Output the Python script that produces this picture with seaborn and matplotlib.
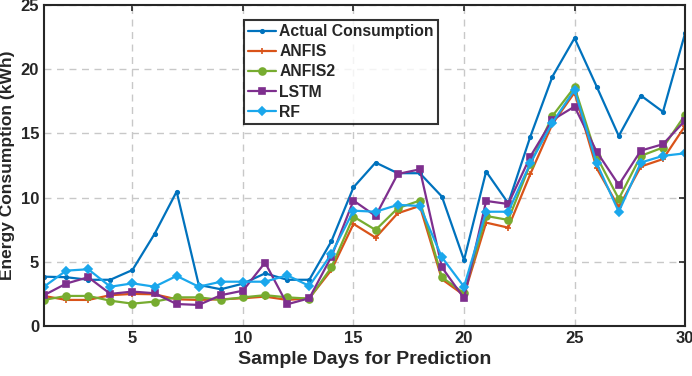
import numpy as np
import pandas as pd
import matplotlib
matplotlib.use("Agg")
import matplotlib.pyplot as plt
import seaborn as sns

days = list(range(1, 31))
actual = [3.84, 3.8, 3.6, 3.6, 4.36, 7.17, 10.47, 3.2, 2.86, 3.3, 4.1, 3.6, 3.6, 6.6, 10.8,
          12.73, 11.9, 11.9, 10.08, 5.14, 12.03, 9.56, 14.75, 19.43, 22.42, 18.65, 14.8, 17.95, 16.68, 22.8]
anfis = [2.34, 2.03, 2.03, 2.4, 2.5, 2.47, 2.08, 2.03, 2.08, 2.16, 2.29, 2.03, 2.16, 4.36, 7.95,
         6.88, 8.78, 9.35, 3.64, 2.4, 8.05, 7.66, 11.84, 15.74, 18.18, 12.29, 9.25, 12.42, 13.0, 15.58]
anfis2 = [2.03, 2.34, 2.34, 1.97, 1.74, 1.9, 2.23, 2.23, 2.03, 2.23, 2.4, 2.23, 2.13, 4.57, 8.52,
          7.48, 9.17, 9.77, 3.8, 2.55, 8.57, 8.26, 12.62, 16.36, 18.6, 13.2, 9.9, 13.25, 13.9, 16.44]
lstm = [2.4, 3.3, 3.8, 2.5, 2.68, 2.55, 1.71, 1.64, 2.4, 2.75, 4.94, 1.69, 2.16, 5.4, 9.77,
        8.57, 11.84, 12.2, 4.57, 2.16, 9.74, 9.5, 13.2, 16.05, 17.09, 13.58, 10.99, 13.66, 14.16, 16.0]
rf = [3.06, 4.31, 4.42, 3.06, 3.32, 3.06, 3.9, 3.06, 3.45, 3.45, 3.45, 3.95, 3.12, 5.6, 8.98,
      8.9, 9.43, 9.35, 5.35, 3.06, 8.9, 8.9, 12.68, 15.84, 18.39, 12.68, 8.9, 12.73, 13.25, 13.45]

series_names = ["Actual Consumption", "ANFIS", "ANFIS2", "LSTM", "RF"]
series_vals = [actual, anfis, anfis2, lstm, rf]
colors = ["#0072BD", "#D95319", "#77AC30", "#7E2F8E", "#1AA7EC"]
markers = [".", "+", "o", "s", "D"]
msizes = [5, 4, 5, 5, 4.5]

sns.set_style("white")
plt.rcParams["font.family"] = ["Liberation Sans Narrow", "Liberation Sans", "DejaVu Sans"]
plt.rcParams["font.weight"] = "bold"

fig = plt.figure(figsize=(6.92, 3.76), dpi=100)
ax = fig.add_axes([0.0636, 0.133, 0.9264, 0.8537])

for name, vals, c, m, ms in zip(series_names, series_vals, colors, markers, msizes):
    df = pd.DataFrame({"day": days, "value": vals})
    sns.lineplot(data=df, x="day", y="value", ax=ax, color=c, marker=m, markersize=ms,
                 markeredgecolor=c, markerfacecolor=c, markeredgewidth=1.2,
                 linewidth=1.6, label=name)

ax.set_xlim(1, 30)
ax.set_ylim(0, 25)
ax.set_xticks([5, 10, 15, 20, 25, 30])
ax.set_yticks([0, 5, 10, 15, 20, 25])
ax.grid(True, linestyle=(0, (5, 4)), color="#c8c8c8", linewidth=1.0)
ax.tick_params(direction="in", top=True, right=True, length=4, width=1.2, labelsize=12)
for lbl in ax.get_xticklabels() + ax.get_yticklabels():
    lbl.set_fontweight("bold")
for s in ax.spines.values():
    s.set_color("#262626")
    s.set_linewidth(1.5)
ax.set_xlabel("Sample Days for Prediction", fontsize=14, fontweight="bold")
ax.set_ylabel("Energy Consumption (kWh)", fontsize=12.5, fontweight="bold")

leg = ax.legend(loc="upper left", bbox_to_anchor=(0.312, 0.953),
                prop={"weight": "bold", "size": 11.3}, frameon=True, fancybox=False,
                edgecolor="black", borderpad=0.25, labelspacing=0.33, handlelength=1.8,
                handletextpad=0.2, borderaxespad=0)
leg.get_frame().set_linewidth(1.5)

fig.savefig("out.png", dpi=100)
